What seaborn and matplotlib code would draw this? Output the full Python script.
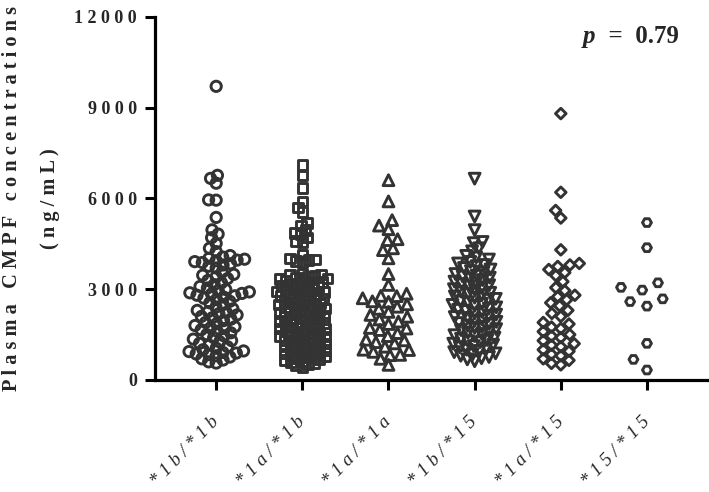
import numpy as np
import pandas as pd
import matplotlib
matplotlib.use("Agg")
import matplotlib.pyplot as plt
import seaborn as sns

categories = ["*1b/*1b", "*1a/*1b", "*1a/*1a", "*1b/*15", "*1a/*15", "*15/*15"]

g_1b_1b = [9700, 6760, 6660, 6500, 5950, 5940, 5370, 4960, 4820, 4700, 4510, 4350, 4240,
           4110, 4060, 4020, 3990, 3960, 3940, 3910, 3880, 3840, 3800, 3760, 3700,
           3560, 3490, 3460, 3410, 3350, 3290, 3210, 3150, 3090, 3040,
           2990, 2950, 2910, 2880, 2860, 2840, 2800, 2780, 2740, 2700, 2660, 2600, 2550, 2490,
           2410, 2350, 2300, 2260, 2230, 2190, 2150, 2100, 2060, 2010, 1960, 1900, 1860, 1800,
           1760, 1720, 1700, 1660, 1610, 1560, 1500, 1460, 1400, 1350, 1300, 1260, 1210, 1150, 1100,
           1050, 1000, 960, 940, 910, 890, 860, 840, 800, 760, 700, 660, 600, 560]

g_1a_1b = [7100, 6750, 6350, 5900, 5700, 5550, 5180, 5100, 4950, 4850, 4800, 4700, 4600, 4550,
           4150, 4020, 3980, 3960, 3940, 3900,
           3520, 3480, 3460, 3430, 3400, 3380, 3350, 3330, 3300, 3270, 3240, 3210, 3190, 3160,
           3120, 3100, 3070, 3040, 3010, 2990, 2960, 2930, 2900, 2880, 2850, 2820, 2800, 2770,
           2740, 2710, 2690, 2660, 2630, 2600, 2580, 2550, 2520, 2490, 2470, 2440, 2410, 2390,
           2360, 2330, 2300, 2280, 2250, 2220, 2200, 2170, 2140, 2110, 2090, 2060, 2030, 2000,
           1980, 1950, 1920, 1890, 1870, 1840, 1810, 1790, 1760, 1730, 1700, 1680, 1650, 1620,
           1600, 1570, 1540, 1510, 1490, 1460, 1430, 1400, 1380, 1350, 1320, 1300, 1270, 1240,
           1210, 1190, 1160, 1130, 1100, 1080, 1050, 1020, 990, 970, 940, 910, 880, 860, 830,
           800, 770, 750, 720, 690, 660, 630, 600, 560, 520, 480, 420]

g_1a_1a = [6600, 5900, 5280, 5100, 4980, 4650, 4620, 4350, 4290, 4020, 3500, 3140,
           2850, 2780, 2770, 2700, 2600, 2580, 2500, 2420, 2350, 2250, 2150, 2090, 2000,
           1930, 1850, 1720, 1700, 1650, 1550, 1450, 1330, 1310, 1250, 1210, 1100, 1000,
           990, 930, 830, 820, 700, 500]

g_1b_15 = [6650, 5400, 4950, 4560, 4520, 4350, 4250, 4100, 4050, 3980, 3900, 3850, 3800,
           3760, 3700, 3650, 3600, 3560, 3500, 3450, 3420, 3380, 3350, 3300, 3250, 3200,
           3170, 3130, 3100, 3050, 3000, 2960, 2920, 2880, 2850, 2800, 2760, 2720, 2680,
           2650, 2600, 2560, 2520, 2480, 2450, 2400, 2360, 2320, 2280, 2250, 2200, 2160,
           2120, 2080, 2050, 2000, 1960, 1920, 1880, 1850, 1800, 1760, 1720, 1680, 1650,
           1600, 1560, 1520, 1480, 1450, 1400, 1360, 1320, 1280, 1250, 1200, 1160, 1120,
           1080, 1050, 1000, 960, 920, 880, 850, 800, 760, 720, 680, 620]

g_1a_15 = [8800, 6200, 5600, 5350, 4300, 3850, 3800, 3750, 3650, 3550, 3450, 3250, 3050,
           2950, 2800, 2750, 2650, 2550, 2450, 2300, 2200, 2100, 1900, 1850, 1750, 1700,
           1600, 1500, 1450, 1400, 1300, 1200, 1150, 1100, 1000, 950, 850, 800, 700, 650,
           550, 500]

g_15_15 = [5200, 4370, 3210, 3060, 2970, 2680, 2590, 2440, 1210, 680, 330]

groups = [g_1b_1b, g_1a_1b, g_1a_1a, g_1b_15, g_1a_15, g_15_15]
markers = ["o", "s", "^", "v", "D", "H"]
layout_sizes = [4.2, 3.5, 6.0, 4.2, 5.5, 11.0]
display_sizes = [7.4, 6.9, 7.8, 7.8, 5.4, 6.4]

y_ticks = [0, 3000, 6000, 9000, 12000]

sns.set_style("white")
plt.rcParams["font.family"] = ["Liberation Serif", "DejaVu Serif"]

df = pd.DataFrame({
    "genotype": [c for c, g in zip(categories, groups) for _ in g],
    "conc": [v for g in groups for v in g],
})

W, H = 709, 492
fig = plt.figure(figsize=(W / 100, H / 100), dpi=100)
ax = fig.add_axes([155 / W, 1 - 380 / H, 1 - 155 / W, (380 - 16.7) / H])

ink = "#333333"
made = []
for cat, mk, ls, ds in zip(categories, markers, layout_sizes, display_sizes):
    sub = df[df["genotype"] == cat]
    n0 = len(ax.collections)
    sns.swarmplot(data=sub, x="genotype", y="conc", order=categories, marker=mk,
                  size=ls, color=ink, linewidth=1.0, edgecolor=ink, ax=ax, warn_thresh=1)
    made.append((ax.collections[n0:], ds))

ax.set_xlim(-0.71, 5.72)
ax.set_ylim(0, 12000)

fig.canvas.draw()
for colls, ds in made:
    for coll in colls:
        if "draw" in coll.__dict__:
            del coll.draw
        coll.set_sizes([ds ** 2])
        coll.set_facecolor("none")
        coll.set_edgecolor(ink)
        coll.set_linewidth(2.1)

def spaced(s, sep=" "):
    return sep.join(list(s))

ax.set_yticks(y_ticks)
ax.set_yticklabels([spaced(str(t)) for t in y_ticks], fontsize=13, fontweight="bold")
ax.set_xticks(range(len(categories)))
ax.set_xticklabels([spaced(c) for c in categories], fontsize=13.5, style="italic",
                   rotation=46, ha="right", va="center", rotation_mode="anchor")

for side in ["top", "right"]:
    ax.spines[side].set_visible(False)
for side in ["left", "bottom"]:
    ax.spines[side].set_linewidth(2.3)
    ax.spines[side].set_color("black")
ax.tick_params(axis="both", which="major", length=7, width=2.2, color="black",
               direction="out", left=True, bottom=True)
ax.tick_params(axis="y", pad=6)
ax.tick_params(axis="x", pad=21)

ax.set_xlabel("")
ylab = spaced("Plasma CMPF concentrations") + "\n" + spaced("(ng/mL)")
ax.set_ylabel(ylab, fontsize=14.7, fontweight="bold", linespacing=2.2)
ax.yaxis.set_label_coords(-0.172, 0.5)

t1 = fig.text(583 / W, 1 - 43 / H, "p", style="italic", fontweight="bold", fontsize=18,
              va="baseline", ha="left")
ax.annotate("\u2002=\u20020.79", xy=(1, 0), xycoords=t1, va="bottom", ha="left",
            fontweight="bold", fontsize=18)

fig.savefig("out.png", dpi=100)
